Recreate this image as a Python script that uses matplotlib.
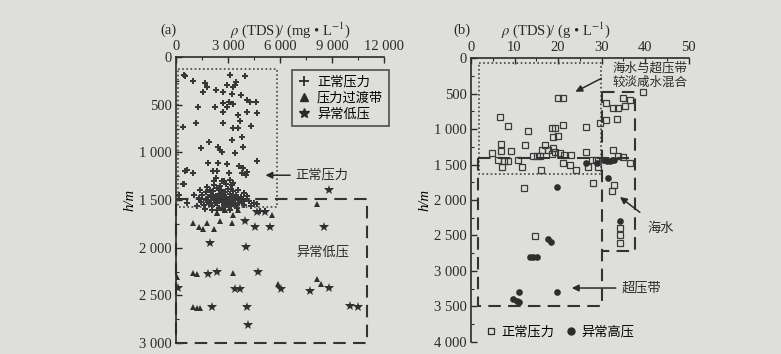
import matplotlib
matplotlib.use("Agg")
import matplotlib.pyplot as plt
from matplotlib.ticker import FixedLocator, MultipleLocator
from matplotlib.lines import Line2D

plt.rcParams['font.family'] = ['Liberation Serif', 'Noto Sans CJK SC', 'DejaVu Sans']
plt.rcParams['mathtext.fontset'] = 'stix'

# ---------------- Panel (a) data: TDS (mg/L) vs depth h (m) ----------------
a_normal_tds = [520, 1000, 3115, 3980, 1670, 1800, 1540, 2310, 2690, 2920, 3310, 3460, 3400, 3210,
                3730, 4080, 4270, 4615, 2730, 3080, 3310, 2960, 2730, 2250, 1290, 3600, 3690, 4110,
                4690, 4310, 2690, 1150, 385, 3310, 3600, 3790, 3210, 1920, 2440, 1420, 3850, 3400,
                2630, 4650, 1870, 2440, 2920, 3650, 3880, 520, 1000, 2150, 2380, 3080, 3790, 4040,
                4110, 385, 2310, 2630, 3115, 3310, 440, 2175, 2750, 3230, 460, 2540, 615,
                1020, 635, 150, 4200, 4480, 4870, 5150,
                1300, 1450, 1500, 1600, 1700, 1750, 1850, 1900, 1950, 2000, 2050, 2100, 2150, 2200,
                2250, 2300, 2350, 2400, 2450, 2500, 2550, 2600, 2650, 2700, 2750, 2800, 2850, 2900,
                2950, 3000, 3050, 3100, 3150, 3200, 3250, 3300, 3350, 3400, 3450, 3550, 3650, 3750,
                3850, 3950, 1200, 1400, 1650, 2050, 2350, 2700, 3100, 3500, 1800, 2200, 2550, 2900,
                3150, 3600, 2000, 2450, 2750, 3000, 3300, 2150, 2600, 1850, 2350, 2850, 3050, 4300,
                4700, 3900, 4100]
a_normal_h = [196, 248, 189, 199, 276, 311, 363, 346, 363, 293, 311, 259, 293, 388,
              398, 451, 468, 468, 479, 468, 493, 521, 573, 527, 521, 608, 671, 573,
              584, 723, 695, 688, 737, 747, 747, 835, 870, 888, 946, 957, 946, 1006,
              999, 1090, 1115, 1115, 1125, 1140, 1160, 1195, 1220, 1195, 1200, 1220, 1220, 1237,
              1210, 1334, 1272, 1300, 1290, 1325, 1331, 1303, 1296, 1338, 189, 975, 1185,
              1443, 1530, 1443, 1512, 1530, 1617, 1617,
              1480, 1520, 1450, 1555, 1500, 1420, 1470, 1540, 1390, 1500, 1450, 1560, 1410, 1490,
              1530, 1460, 1370, 1510, 1440, 1580, 1480, 1400, 1520, 1460, 1550, 1420, 1500, 1470,
              1540, 1380, 1490, 1440, 1520, 1560, 1470, 1410, 1500, 1540, 1450, 1490, 1530, 1470,
              1510, 1550, 1560, 1400, 1590, 1600, 1600, 1600, 1600, 1580, 1360, 1340, 1350, 1330,
              1380, 1400, 1420, 1500, 1490, 1510, 1470, 1480, 1450, 1520, 1530, 1560, 1570, 1560,
              1540, 1430, 1460]

a_trans_tds = [2350, 3310, 5520, 3210, 2540, 2190, 1540, 1000, 1770, 1300, 2370, 2800, 3600, 8150,
               40, 1000, 1200, 3270, 5900, 8120, 8370, 1000, 1230, 1385]
a_trans_h = [1638, 1656, 1656, 1743, 1715, 1806, 1806, 1736, 1736, 1780, 1635, 1600, 1610, 1540,
             2309, 2267, 2275, 2262, 2379, 2330, 2382, 2617, 2634, 2634]

a_low_tds = [8830, 4690, 5140, 3980, 4560, 5420, 8560, 1960, 4040, 135, 3400, 3690, 6060, 7730,
             8850, 2060, 4080, 10040, 10520, 4170, 1870, 2380, 4750]
a_low_h = [1394, 1630, 1630, 1715, 1785, 1785, 1785, 1952, 1994, 2424, 2435, 2435, 2435, 2452,
           2424, 2617, 2617, 2610, 2617, 2809, 2276, 2256, 2256]

# ---------------- Panel (b) data: TDS (g/L) vs depth h (m) ----------------
b_normal_tds = [20.0, 21.2, 6.7, 8.6, 13.1, 21.2, 18.6, 19.4, 18.9, 19.9, 26.5, 29.6, 6.9, 6.9,
                4.9, 9.3, 12.5, 17.0, 16.4, 17.6, 18.9, 19.3, 14.3, 15.1, 15.8, 18.6, 20.4, 21.4,
                22.9, 26.5, 6.3, 7.6, 8.6, 10.7, 7.2, 11.8, 21.2, 22.7, 24.2, 16.1, 26.9, 29.1,
                27.7, 28.8, 28.0, 12.2,
                31.0, 32.5, 33.8, 34.9, 36.6, 35.3, 39.4, 31.0, 33.6, 32.5, 33.8, 34.9, 36.5,
                32.9, 32.4, 34.2, 34.2, 34.2, 14.7]
b_normal_h = [568, 568, 835, 957, 1028, 943, 990, 990, 1108, 1098, 976, 911, 1211, 1309,
              1342, 1309, 1229, 1229, 1295, 1295, 1272, 1319, 1380, 1380, 1380, 1352, 1342, 1366,
              1366, 1319, 1436, 1450, 1450, 1436, 1539, 1539, 1483, 1507, 1577, 1577, 1539, 1539,
              1436, 1436, 1756, 1835,
              638, 700, 700, 568, 591, 671, 483, 873, 859, 1295, 1376, 1390, 1483,
              1788, 1868, 2398, 2492, 2600, 2506]

b_high_tds = [26.3, 19.7, 31.4, 34.2, 17.7, 18.3, 13.5, 14.3, 15.1, 11.1, 19.7, 9.7, 10.5, 11.1,
              30.3, 30.8, 31.3, 31.8, 32.3, 32.8, 29.0]
b_high_h = [1474, 1821, 1694, 2295, 2553, 2587, 2797, 2797, 2797, 3299, 3299, 3397, 3417, 3431,
            1436, 1440, 1445, 1445, 1440, 1436, 1480]

a_xticks = [0, 3000, 6000, 9000, 12000]
a_xticklabels = ["0", "3 000", "6 000", "9 000", "12 000"]
a_yticks = [0, 500, 1000, 1500, 2000, 2500, 3000]
a_yticklabels = ["0", "500", "1 000", "1 500", "2 000", "2 500", "3 000"]
b_xticks = [0, 10, 20, 30, 40, 50]
b_xticklabels = ["0", "10", "20", "30", "40", "50"]
b_yticks = [0, 500, 1000, 1500, 2000, 2500, 3000, 3500, 4000]
b_yticklabels = ["0", "500", "1 000", "1 500", "2 000", "2 500", "3 000", "3 500", "4 000"]

BG = '#dedfdb'
INK = '#2a2a2a'
cjk = ['Noto Sans CJK SC', 'DejaVu Sans']

fig = plt.figure(figsize=(7.81, 3.54), dpi=100, facecolor=BG)


def style_axes(ax, xticks, xlabels, yticks, ylabels, xminor, yminor):
    ax.set_facecolor(BG)
    for s in ['right', 'bottom']:
        ax.spines[s].set_visible(False)
    for s in ['left', 'top']:
        ax.spines[s].set_color(INK)
        ax.spines[s].set_linewidth(1.2)
    ax.xaxis.tick_top()
    ax.xaxis.set_major_locator(FixedLocator(xticks))
    ax.set_xticklabels(xlabels)
    ax.yaxis.set_major_locator(FixedLocator(yticks))
    ax.set_yticklabels(ylabels)
    ax.xaxis.set_minor_locator(MultipleLocator(xminor))
    ax.yaxis.set_minor_locator(MultipleLocator(yminor))
    ax.tick_params(which='major', direction='in', length=4, width=1, colors=INK,
                   labelsize=10.5, pad=3)
    ax.tick_params(which='minor', direction='in', length=2, width=0.8, colors=INK)
    ax.tick_params(axis='x', which='both', top=True, bottom=False)
    ax.tick_params(axis='y', which='both', left=True, right=False)


# ---------------- Panel (a) ----------------
axA = fig.add_axes([0.2254, 0.031, 0.2663, 0.808])
axA.set_xlim(0, 12000)
axA.set_ylim(3000, 0)
style_axes(axA, a_xticks, a_xticklabels, a_yticks, a_yticklabels, 1500, 250)
axA.set_ylabel('h/m', fontstyle='italic', fontsize=10.5, labelpad=2)

axA.plot(a_normal_tds, a_normal_h, linestyle='none', marker='P', markersize=5,
         color='#383838', markeredgewidth=0)
axA.plot(a_trans_tds, a_trans_h, linestyle='none', marker='^', markersize=5,
         color='#303030', markeredgewidth=0)
axA.plot(a_low_tds, a_low_h, linestyle='none', marker='*', markersize=7,
         color='#303030', markeredgewidth=0)

# dotted box (normal pressure) and dashed box (abnormal low pressure)
axA.plot([100, 5800, 5800, 100, 100], [130, 130, 1570, 1570, 130],
         linestyle=(0, (1, 1.5)), color='#444444', linewidth=1.2)
axA.plot([0, 11000, 11000, 0, 0], [1490, 1490, 3000, 3000, 1490],
         linestyle=(0, (6, 3.5)), color='#333333', linewidth=1.5, clip_on=False)

handlesA = [Line2D([], [], linestyle='none', marker='+', markersize=7, color=INK, markeredgewidth=1.3),
            Line2D([], [], linestyle='none', marker='^', markersize=6, color=INK),
            Line2D([], [], linestyle='none', marker='*', markersize=7.5, color=INK)]
legA = axA.legend(handlesA, ['正常压力', '压力过渡带', '异常低压'],
                  loc='upper left', bbox_to_anchor=(292 / 781, 1 - 70 / 354),
                  bbox_transform=fig.transFigure, frameon=True, fancybox=False,
                  fontsize=9.5, handlelength=1.0, handletextpad=0.5, labelspacing=0.25,
                  borderpad=0.4, borderaxespad=0)
legA.get_frame().set_edgecolor(INK)
legA.get_frame().set_linewidth(1.2)
legA.get_frame().set_facecolor(BG)
for t in legA.get_texts():
    t.set_family(cjk)

axA.annotate('正常压力', xy=(5000, 1240), xytext=(6900, 1240),
             fontsize=9.5, family=cjk, va='center', color=INK,
             arrowprops=dict(arrowstyle='-|>', color=INK, lw=1.1, mutation_scale=10))
axA.text(6950, 2050, '异常低压', fontsize=9.5, family=cjk, va='center', color=INK)

fig.text(168 / 781, 1 - 30 / 354, '(a)', fontsize=10.5, ha='center', va='center', color=INK)
fig.text(290 / 781, 1 - 30 / 354, r'$\rho$ (TDS)/ (mg • L$^{-1}$)', fontsize=10.5,
         ha='center', va='center', color=INK)

# ---------------- Panel (b) ----------------
axB = fig.add_axes([0.603, 0.034, 0.279, 0.802])
axB.set_xlim(0, 50)
axB.set_ylim(4000, 0)
style_axes(axB, b_xticks, b_xticklabels, b_yticks, b_yticklabels, 5, 250)
axB.set_ylabel('h/m', fontstyle='italic', fontsize=10.5, labelpad=2)

axB.plot(b_normal_tds, b_normal_h, linestyle='none', marker='s', markersize=4,
         markerfacecolor='none', markeredgecolor='#3a3a3a', markeredgewidth=0.9)
axB.plot(b_high_tds, b_high_h, linestyle='none', marker='o', markersize=4.8,
         color='#2e2e2e', markeredgewidth=0)

# dotted box
axB.plot([1.8, 29.8, 29.8, 1.8, 1.8], [70, 70, 1634, 1634, 70],
         linestyle=(0, (1, 1.5)), color='#444444', linewidth=1.2)
# large dashed box (overpressure)
axB.plot([1.6, 37.6], [1410, 1410], linestyle=(0, (6, 3.5)), color='#333333', linewidth=1.5)
axB.plot([1.6, 1.6, 30, 30], [1410, 3490, 3490, 480], linestyle=(0, (6, 3.5)),
         color='#333333', linewidth=1.5)
# seawater dashed box
axB.plot([30, 37.6, 37.6, 30], [480, 480, 2718, 2718], linestyle=(0, (6, 3.5)),
         color='#333333', linewidth=1.5)

axB.annotate('', xy=(23.4, 493), xytext=(30.5, 268),
             arrowprops=dict(arrowstyle='-|>', color=INK, lw=1.1, mutation_scale=10))
axB.text(32.5, 145, '海水与超压带', fontsize=9, family=cjk, va='center', color=INK)
axB.text(32.5, 345, '较淡咸水混合', fontsize=9, family=cjk, va='center', color=INK)
axB.annotate('海水', xy=(34.2, 1958), xytext=(40.5, 2400), fontsize=9.5, family=cjk,
             va='center', color=INK,
             arrowprops=dict(arrowstyle='-|>', color=INK, lw=1.1, mutation_scale=10,
                             shrinkB=0, shrinkA=8))
axB.annotate('超压带', xy=(22.5, 3240), xytext=(34.5, 3240), fontsize=9.5, family=cjk,
             va='center', color=INK,
             arrowprops=dict(arrowstyle='-|>', color=INK, lw=1.1, mutation_scale=10))

handlesB = [Line2D([], [], linestyle='none', marker='s', markersize=5, markerfacecolor='none',
                   markeredgecolor=INK, markeredgewidth=0.9),
            Line2D([], [], linestyle='none', marker='o', markersize=5, color=INK)]
legB = axB.legend(handlesB, ['正常压力', '异常高压'], loc='center left',
                  bbox_to_anchor=(486 / 781, 1 - 332 / 354), bbox_transform=fig.transFigure,
                  ncol=2, frameon=False, fontsize=9.5, handlelength=0.8, handletextpad=0.4,
                  columnspacing=0.8, borderaxespad=0, borderpad=0)
for t in legB.get_texts():
    t.set_family(cjk)

fig.text(462 / 781, 1 - 30 / 354, '(b)', fontsize=10.5, ha='center', va='center', color=INK)
fig.text(556 / 781, 1 - 30 / 354, r'$\rho$ (TDS)/ (g • L$^{-1}$)', fontsize=10.5,
         ha='center', va='center', color=INK)

fig.savefig('out.png', dpi=100, facecolor=BG)
